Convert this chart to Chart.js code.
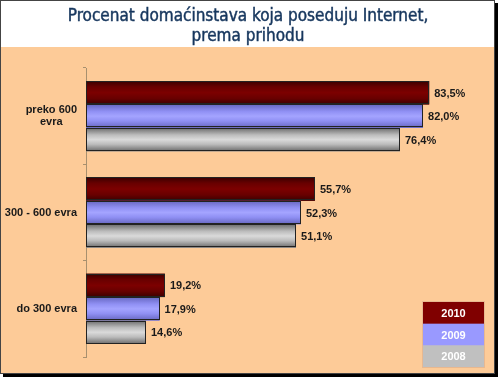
<!DOCTYPE html>
<html>
<head>
<meta charset="utf-8">
<script src="https://cdn.jsdelivr.net/npm/chart.js@4/dist/chart.umd.min.js"></script>
<style>
html,body{margin:0;padding:0;background:#fff;}
#wrap{width:500px;height:380px;position:relative;}
</style>
</head>
<body>
<div id="wrap"><canvas id="c" width="500" height="380"></canvas></div>
<script>
// ---- data ----
const categories = [['preko 600', 'evra'], '300 - 600 evra', 'do 300 evra'];
const seriesNames = ['2010', '2009', '2008'];
const values2010 = [83.5, 55.7, 19.2];
const values2009 = [82.0, 52.3, 17.9];
const values2008 = [76.4, 51.1, 14.6];
const titleLines = ['Procenat domaćinstava koja poseduju Internet,', 'prema prihodu'];

// ---- styles ----
const gradStops = [
  [[0,'#3a0000'],[0.25,'#680000'],[0.5,'#7c0000'],[0.75,'#680000'],[1,'#3a0000']],
  [[0,'#6666c0'],[0.3,'#9090f4'],[0.5,'#a4a4ff'],[0.7,'#9090f4'],[1,'#6666c0']],
  [[0,'#6a6a6a'],[0.3,'#bcbcbc'],[0.5,'#dadada'],[0.7,'#bcbcbc'],[1,'#6a6a6a']]
];
const orange = '#fdcb98';
const axisColor = '#a8906e';
const labelFont = '"Liberation Sans", Arial, sans-serif';
const titleFont = '"DejaVu Sans Condensed", "DejaVu Sans", sans-serif';

const framePlugin = {
  id: 'frame',
  beforeDraw(chart) {
    const c = chart.ctx;
    c.save();
    c.fillStyle = '#ffffff';
    c.fillRect(0, 0, chart.width, chart.height);
    c.fillStyle = '#000000';
    c.fillRect(3, 3, 495, 374);
    c.fillStyle = '#ffffff';
    c.fillRect(0, 0, 495, 374);
    c.fillStyle = orange;
    c.fillRect(1, 47, 493, 326);
    c.strokeStyle = '#444444';
    c.lineWidth = 1;
    c.strokeRect(0.5, 0.5, 494, 373);
    // title
    c.fillStyle = '#17375e';
    c.strokeStyle = '#17375e';
    c.lineWidth = 0.45;
    c.font = '17px ' + titleFont;
    c.textAlign = 'center';
    c.textBaseline = 'alphabetic';
    titleLines.forEach((t, i) => {
      c.fillText(t, 248, 20.5 + i * 20.5);
      c.strokeText(t, 248, 20.5 + i * 20.5);
    });
    c.restore();
  }
};

const yLabelPlugin = {
  id: 'yLabels',
  afterDraw(chart) {
    const c = chart.ctx;
    const sc = chart.scales.y;
    c.save();
    c.fillStyle = '#1a1a1a';
    c.font = 'bold 11px ' + labelFont;
    c.textAlign = 'center';
    c.textBaseline = 'middle';
    const lh = 12;
    chart.data.labels.forEach((lab, i) => {
      const lines = Array.isArray(lab) ? lab : [lab];
      const widest = Math.max(...lines.map(l => c.measureText(l).width));
      const cx = sc.right - 9 - widest / 2;
      const cy = sc.getPixelForTick(i);
      lines.forEach((l, j) => {
        c.fillText(l, cx, cy + (j - (lines.length - 1) / 2) * lh);
      });
    });
    c.restore();
  }
};

const barStylePlugin = {
  id: 'barStyle',
  afterDatasetsDraw(chart) {
    const c = chart.ctx;
    c.save();
    chart.data.datasets.forEach((ds, di) => {
      const meta = chart.getDatasetMeta(di);
      meta.data.forEach((el, i) => {
        const p = el.getProps(['x', 'y', 'base', 'height'], true);
        const top = p.y - p.height / 2;
        const left = Math.min(p.base, p.x);
        const w = Math.abs(p.x - p.base);
        const g = c.createLinearGradient(0, top, 0, top + p.height);
        gradStops[di].forEach(s => g.addColorStop(s[0], s[1]));
        c.fillStyle = g;
        c.fillRect(left, top, w, p.height);
        c.strokeStyle = '#222222';
        c.lineWidth = 1;
        c.strokeRect(Math.round(left) + 0.5, Math.round(top) + 0.5, Math.round(w) - 1, Math.round(p.height) - 1);
        const v = ds.data[i];
        c.fillStyle = '#1a1a1a';
        c.font = 'bold 11px ' + labelFont;
        c.textAlign = 'left';
        c.textBaseline = 'middle';
        c.fillText(v.toFixed(1).replace('.', ',') + '%', p.x + 5, p.y + 1);
      });
    });
    c.restore();
  }
};

const legendPlugin = {
  id: 'boxLegend',
  afterDraw(chart) {
    const c = chart.ctx;
    const x = 423, y = 302, w = 61, rowH = 21.67;
    c.save();
    chart.data.datasets.forEach((ds, i) => {
      c.fillStyle = ds.backgroundColor;
      c.fillRect(x, y + i * rowH, w, rowH + 0.5);
      c.fillStyle = '#ffffff';
      c.font = 'bold 11px ' + labelFont;
      c.textAlign = 'center';
      c.textBaseline = 'middle';
      c.fillText(ds.label, x + w / 2, y + i * rowH + rowH / 2 + 1);
    });
    c.strokeStyle = '#e8b890';
    c.lineWidth = 1;
    c.strokeRect(x - 0.5, y - 0.5, w + 1, rowH * 3 + 1);
    c.restore();
  }
};

new Chart(document.getElementById('c'), {
  type: 'bar',
  data: {
    labels: categories,
    datasets: [
      { label: seriesNames[0], data: values2010, backgroundColor: '#800000' },
      { label: seriesNames[1], data: values2009, backgroundColor: '#9999ff' },
      { label: seriesNames[2], data: values2008, backgroundColor: '#c0c0c0' }
    ]
  },
  options: {
    indexAxis: 'y',
    responsive: false,
    animation: false,
    devicePixelRatio: 1,
    layout: { padding: { left: 0, right: 3, top: 68, bottom: 23 } },
    datasets: { bar: { categoryPercentage: 0.73, barPercentage: 1.0, borderWidth: 0 } },
    scales: {
      x: { display: false, min: 0, max: 100 },
      y: {
        afterFit(scale) { scale.width = 86; },
        grid: { display: true, offset: true, drawOnChartArea: false, drawTicks: true, tickLength: 3, color: axisColor },
        border: { display: true, color: axisColor, width: 1 },
        ticks: { display: false }
      }
    },
    plugins: {
      legend: { display: false },
      tooltip: { enabled: false },
      title: { display: false }
    }
  },
  plugins: [framePlugin, barStylePlugin, yLabelPlugin, legendPlugin]
});
</script>
</body>
</html>
